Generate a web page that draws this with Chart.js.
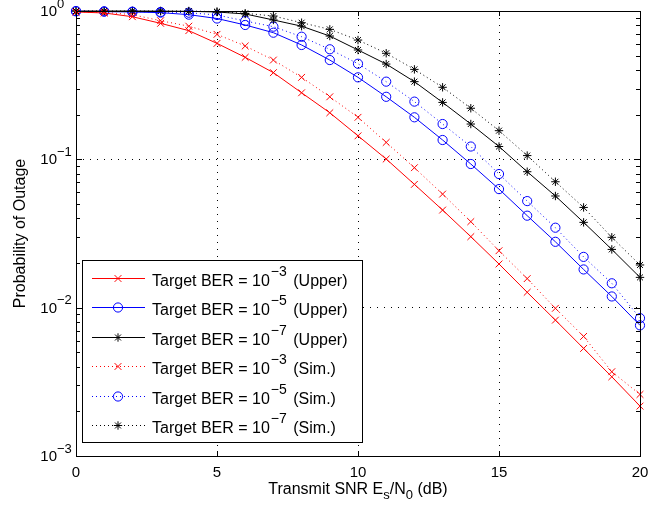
<!DOCTYPE html>
<html>
<head>
<meta charset="utf-8">
<script src="https://cdn.jsdelivr.net/npm/chart.js@4.4.1/dist/chart.umd.min.js"></script>
<style>
  html, body { margin: 0; padding: 0; background: #fff; }
  #wrap { width: 671px; height: 510px; position: relative; }
</style>
</head>
<body>
<div id="wrap"><canvas id="outage"></canvas></div>
<script>
// Données
const snrDb = [0, 1, 2, 3, 4, 5, 6, 7, 8, 9, 10, 11, 12, 13, 14, 15, 16, 17, 18, 19, 20];
const ber3Upper = [0.985, 0.97, 0.915, 0.826, 0.737, 0.605, 0.487, 0.384, 0.281, 0.206, 0.144, 0.1005, 0.0678, 0.0455, 0.0301, 0.0197, 0.0127, 0.00824, 0.00531, 0.00342, 0.00217];
const ber5Upper = [0.995, 0.99, 0.985, 0.975, 0.945, 0.89, 0.805, 0.714, 0.59, 0.467, 0.357, 0.264, 0.192, 0.135, 0.093, 0.063, 0.0417, 0.0278, 0.0181, 0.0119, 0.0076];
const ber7Upper = [1.0, 1.0, 1.0, 0.998, 0.995, 0.985, 0.955, 0.87, 0.79, 0.678, 0.546, 0.439, 0.334, 0.242, 0.173, 0.122, 0.0825, 0.0566, 0.0376, 0.0247, 0.016];
const ber3Sim = [0.99, 0.98, 0.945, 0.86, 0.79, 0.696, 0.581, 0.467, 0.357, 0.264, 0.192, 0.13, 0.0878, 0.0583, 0.038, 0.0242, 0.0157, 0.0099, 0.0064, 0.0037, 0.0026];
const ber5Sim = [1.0, 0.995, 0.99, 0.985, 0.974, 0.94, 0.856, 0.784, 0.671, 0.552, 0.441, 0.334, 0.245, 0.173, 0.122, 0.0796, 0.0523, 0.0346, 0.022, 0.0146, 0.0085];
const ber7Sim = [1.0, 1.0, 1.0, 1.0, 1.0, 0.99, 0.965, 0.925, 0.834, 0.752, 0.637, 0.519, 0.404, 0.306, 0.221, 0.156, 0.106, 0.0706, 0.0474, 0.0298, 0.0194];
const berExponents = ['3', '5', '7', '3', '5', '7'];
const seriesKinds = ['Upper', 'Upper', 'Upper', 'Sim.', 'Sim.', 'Sim.'];
const xTicks = [0, 5, 10, 15, 20];
const yDecades = [-3, -2, -1, 0];

const FONT = '"Liberation Sans", Arial, Helvetica, sans-serif';

function toPoints(values) {
    return values.map((v, i) => ({ x: snrDb[i], y: v }));
}

function makeDataset(values, color, marker, radius, dotted, exp, kind) {
    return {
        label: 'Target BER = 10^-' + exp + ' (' + kind + ')',
        data: toPoints(values),
        borderColor: color,
        borderWidth: 1,
        borderDash: dotted ? [1, 3] : [],
        pointStyle: marker,
        pointRadius: radius,
        pointBorderColor: color,
        pointBackgroundColor: 'rgba(0,0,0,0)',
        pointBorderWidth: 1,
        tension: 0,
        clip: false,
        exp: exp,
        kind: kind
    };
}

const datasets = [
    makeDataset(ber3Upper, '#ff0000', 'crossRot', 4.8, false, berExponents[0], seriesKinds[0]),
    makeDataset(ber5Upper, '#0000ff', 'circle', 4.6, false, berExponents[1], seriesKinds[1]),
    makeDataset(ber7Upper, '#000000', 'star', 4.2, false, berExponents[2], seriesKinds[2]),
    makeDataset(ber3Sim, '#ff0000', 'crossRot', 4.8, true, berExponents[3], seriesKinds[3]),
    makeDataset(ber5Sim, '#0000ff', 'circle', 4.6, true, berExponents[4], seriesKinds[4]),
    makeDataset(ber7Sim, '#000000', 'star', 4.2, true, berExponents[5], seriesKinds[5])
];

// Cadre, graduations, libellés et légende dessinés à la manière de MATLAB
const matlabFrame = {
    id: 'matlabFrame',
    afterDraw(chart) {
        const ctx = chart.ctx;
        const area = chart.chartArea;
        const xs = chart.scales.x;
        const ys = chart.scales.y;
        ctx.save();
        ctx.strokeStyle = '#000';
        ctx.fillStyle = '#000';
        ctx.lineWidth = 1;
        ctx.setLineDash([]);

        // Cadre
        ctx.strokeRect(Math.round(area.left) + 0.5, Math.round(area.top) + 0.5,
            Math.round(area.right - area.left), Math.round(area.bottom - area.top));

        // Graduations de l'axe x
        ctx.beginPath();
        xTicks.forEach(t => {
            const px = Math.round(xs.getPixelForValue(t)) + 0.5;
            ctx.moveTo(px, area.bottom); ctx.lineTo(px, area.bottom - 5);
            ctx.moveTo(px, area.top); ctx.lineTo(px, area.top + 5);
        });
        // Graduations majeures et mineures de l'axe y
        yDecades.forEach(d => {
            for (let m = 1; m <= 9; m++) {
                const v = m * Math.pow(10, d);
                if (v > 1.0001) break;
                const py = Math.round(ys.getPixelForValue(v)) + 0.5;
                const len = m === 1 ? 6 : 4;
                ctx.moveTo(area.left, py); ctx.lineTo(area.left + len, py);
                ctx.moveTo(area.right, py); ctx.lineTo(area.right - len, py);
            }
        });
        ctx.stroke();

        // Libellés x
        ctx.font = '15px ' + FONT;
        ctx.textAlign = 'center';
        ctx.textBaseline = 'middle';
        xTicks.forEach(t => {
            ctx.fillText(String(t), xs.getPixelForValue(t), area.bottom + 17);
        });

        // Libellés y (10 avec exposant)
        yDecades.forEach(d => {
            const py = ys.getPixelForValue(Math.pow(10, d));
            ctx.font = '15px ' + FONT;
            ctx.textAlign = 'right';
            ctx.fillText('10', 57, py + 1);
            ctx.font = '13px ' + FONT;
            ctx.textAlign = 'left';
            ctx.fillText(d === 0 ? '0' : '\u2212' + (-d), 57, py - 7);
        });

        // Titre de l'axe x
        ctx.textAlign = 'left';
        const parts = [
            ['Transmit SNR E', 16, 0],
            ['s', 13, 5],
            ['/N', 16, 0],
            ['0', 13, 5],
            [' (dB)', 16, 0]
        ];
        let total = 0;
        parts.forEach(p => { ctx.font = p[1] + 'px ' + FONT; total += ctx.measureText(p[0]).width; });
        let cx = (area.left + area.right) / 2 - total / 2;
        parts.forEach(p => {
            ctx.font = p[1] + 'px ' + FONT;
            ctx.fillText(p[0], cx, 490 + p[2]);
            cx += ctx.measureText(p[0]).width;
        });

        // Titre de l'axe y
        ctx.save();
        ctx.translate(21, (area.top + area.bottom) / 2);
        ctx.rotate(-Math.PI / 2);
        ctx.font = '16px ' + FONT;
        ctx.textAlign = 'center';
        ctx.fillText('Probability of Outage', 0, 0);
        ctx.restore();

        // Légende
        const lx = 82, ly = 260, lw = 280, lh = 182;
        ctx.fillStyle = '#fff';
        ctx.fillRect(lx, ly, lw, lh);
        ctx.strokeStyle = '#000';
        ctx.strokeRect(lx + 0.5, ly + 0.5, lw, lh);
        chart.data.datasets.forEach((ds, i) => {
            const rowY = Math.round(ly + 18 + i * 29.4) + 0.5;
            ctx.strokeStyle = ds.borderColor;
            ctx.lineWidth = 1;
            ctx.setLineDash(ds.borderDash);
            ctx.beginPath();
            ctx.moveTo(92, rowY); ctx.lineTo(145, rowY);
            ctx.stroke();
            ctx.setLineDash([]);
            ctx.fillStyle = 'rgba(0,0,0,0)';
            Chart.helpers.drawPoint(ctx, {
                pointStyle: ds.pointStyle,
                radius: ds.pointRadius,
                borderWidth: 1,
                rotation: 0
            }, 118, rowY);
            ctx.fillStyle = '#000';
            ctx.textAlign = 'left';
            ctx.textBaseline = 'middle';
            let tx = 152;
            ctx.font = '16px ' + FONT;
            ctx.fillText('Target BER = 10', tx, rowY + 3);
            tx += ctx.measureText('Target BER = 10').width + 1;
            ctx.font = '14px ' + FONT;
            ctx.fillText('\u2212' + ds.exp, tx, rowY - 6);
            tx += ctx.measureText('\u2212' + ds.exp).width + 2;
            ctx.font = '16px ' + FONT;
            ctx.fillText(' (' + ds.kind + ')', tx, rowY + 3);
        });
        ctx.restore();
    }
};

const chart = new Chart(document.getElementById('outage'), {
    type: 'line',
    data: { datasets: datasets },
    options: {
        responsive: true,
        maintainAspectRatio: false,
        animation: false,
        layout: { padding: { left: 76, right: 31, top: 11, bottom: 54 } },
        plugins: { legend: { display: false }, tooltip: { enabled: false } },
        scales: {
            x: {
                type: 'linear',
                min: 0,
                max: 20,
                afterBuildTicks: s => { s.ticks = xTicks.map(v => ({ value: v })); },
                ticks: { display: false },
                grid: { color: '#000', lineWidth: 1, drawTicks: false },
                border: { display: false, dash: [1, 6] },
                afterFit: s => { s.height = 0; }
            },
            y: {
                type: 'logarithmic',
                min: 0.001,
                max: 1,
                afterBuildTicks: s => { s.ticks = yDecades.map(d => ({ value: Math.pow(10, d), major: true })); },
                ticks: { display: false },
                grid: { color: '#000', lineWidth: 1, drawTicks: false },
                border: { display: false, dash: [1, 6] },
                afterFit: s => { s.width = 0; }
            }
        }
    },
    plugins: [matlabFrame]
});
</script>
</body>
</html>
